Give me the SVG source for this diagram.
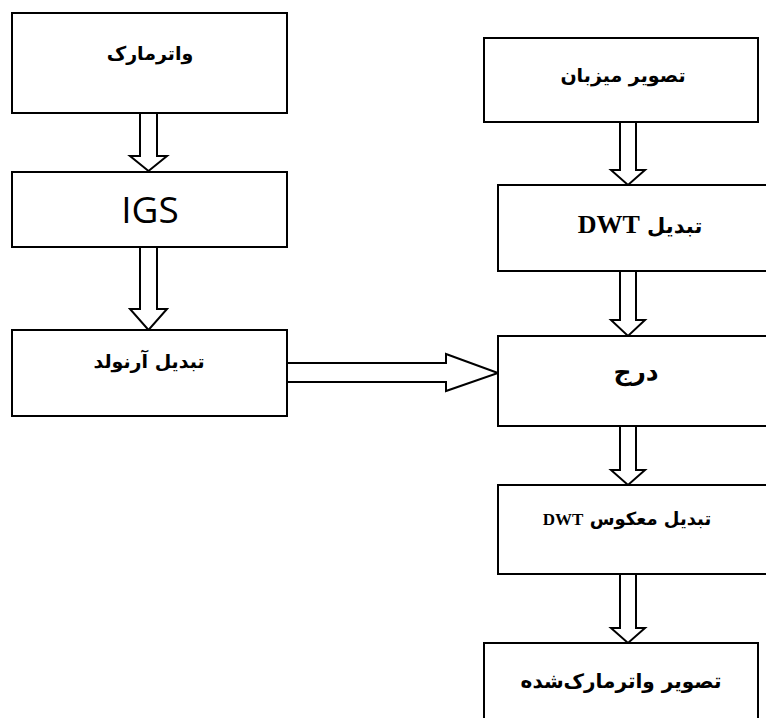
<svg xmlns="http://www.w3.org/2000/svg" width="766" height="718" viewBox="0 0 766 718">
<style>
.box{fill:#fff;stroke:#000;stroke-width:2}
.arr{fill:#fff;stroke:#000;stroke-width:2;stroke-linejoin:miter}
.fa{font-family:"DejaVu Sans","Noto Sans",sans-serif;font-weight:bold;fill:#000}
.en{font-family:"Liberation Serif","Times New Roman",serif;font-weight:bold}
</style>
<rect width="766" height="718" fill="#fff"/>
<g id="connectors">
<polygon class="arr" points="140,113 157,113 157,156 167,156 148.5,171 130,156 140,156"/>
<polygon class="arr" points="140,247 157,247 157,309 167,309 148.5,330 130,309 140,309"/>
<polygon class="arr" points="287,363 446,363 446,354 498,373 446,391 446,382 287,382"/>
<polygon class="arr" points="620,122 636,122 636,170 645,170 628,185 611,170 620,170"/>
<polygon class="arr" points="620,271 636,271 636,320 645,320 628,336 611,320 620,320"/>
<polygon class="arr" points="620,426 636,426 636,470 645,470 628,485 611,470 620,470"/>
<polygon class="arr" points="620,574 636,574 636,628 645,628 628,643 611,628 620,628"/>
</g>
<g id="watermark">
<rect class="box" x="12" y="13" width="275" height="100"/>
<text class="fa" x="150" y="60" font-size="19" text-anchor="middle" direction="rtl">واترمارک</text>
</g>
<g id="igs">
<rect class="box" x="12" y="172" width="275" height="75"/>
<text x="150" y="223" font-family="'Open Sans','Noto Sans',sans-serif" font-size="37" text-anchor="middle">IGS</text>
</g>
<g id="arnold">
<rect class="box" x="12" y="330" width="275" height="86"/>
<text class="fa" x="149" y="368" font-size="19" text-anchor="middle" direction="rtl">تبدیل آرنولد</text>
</g>
<g id="host">
<rect class="box" x="484" y="38" width="274" height="84"/>
<text class="fa" x="623" y="82" font-size="19" text-anchor="middle" direction="rtl">تصویر میزبان</text>
</g>
<g id="dwt">
<rect class="box" x="498" y="185" width="300" height="86"/>
<text class="fa" x="640" y="233" font-size="21" text-anchor="middle" direction="rtl">تبدیل <tspan class="en" font-size="26">DWT</tspan></text>
</g>
<g id="embed">
<rect class="box" x="498" y="336" width="300" height="90"/>
<text class="fa" x="636" y="380" font-size="25" text-anchor="middle" direction="rtl">درج</text>
</g>
<g id="idwt">
<rect class="box" x="498" y="485" width="300" height="89"/>
<text class="fa" x="627" y="525" font-size="18" text-anchor="middle" direction="rtl">تبدیل معکوس <tspan class="en" font-size="17">DWT</tspan></text>
</g>
<g id="watermarked">
<rect class="box" x="484" y="643" width="274" height="100"/>
<text class="fa" x="621" y="688" font-size="20" text-anchor="middle" direction="rtl">تصویر واترمارک‌شده</text>
</g>
</svg>
